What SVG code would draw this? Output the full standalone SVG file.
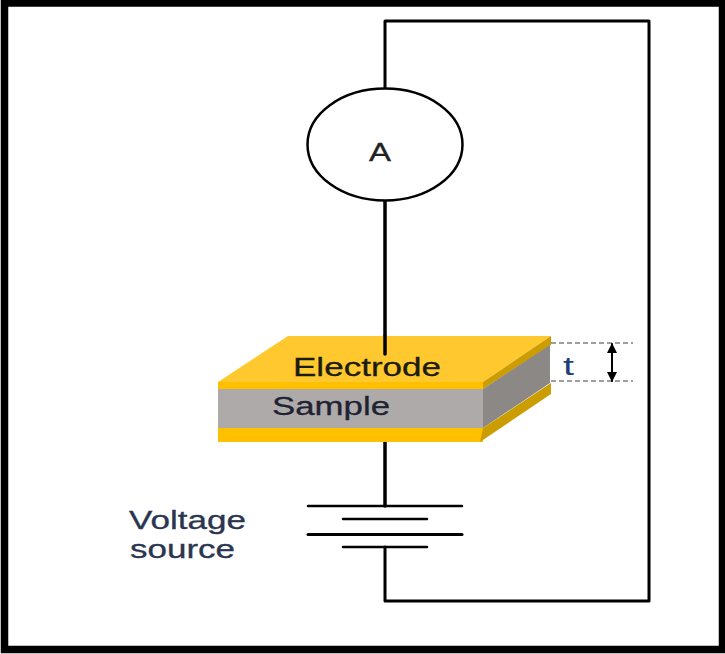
<svg xmlns="http://www.w3.org/2000/svg" width="725" height="654" viewBox="0 0 725 654">
<style>
.w{fill:none;stroke:#000;stroke-linecap:round;stroke-linejoin:round}
.t{font-family:"Liberation Sans",Arial,sans-serif;font-size:25px;stroke-width:.3px}
.d{stroke:#808080;stroke-width:1.5;stroke-dasharray:5 3;fill:none}
</style>
<defs>
<marker id="h" viewBox="0 0 10 10" refX="9" refY="5" markerWidth="5" markerHeight="5" orient="auto-start-reverse"><path d="M0 0L10 5L0 10Z" fill="#000"/></marker>
</defs>
<rect width="725" height="654" fill="#fff"/>
<rect id="frame" x="4.500" y="3" width="718" height="646.500" fill="none" stroke="#000" stroke-width="7.500"/>
<g id="connectors">
<path class="w" stroke-width="3" d="M385 89V21H649V601H385V547"/>
<path class="w" stroke-width="3.500" d="M385 200V354"/>
<path class="w" stroke-width="3.500" d="M385 441V506"/>
<path class="d" d="M551 343H633"/>
<path class="d" d="M551 381H633"/>
<path class="w" stroke-width="2" marker-start="url(#h)" marker-end="url(#h)" d="M612 344V381"/>
</g>
<g id="ammeter">
<ellipse cx="385" cy="144.500" rx="77.500" ry="56" fill="#fff" stroke="#000" stroke-width="2.500"/>
<text class="t" x="369" y="161" textLength="22" lengthAdjust="spacingAndGlyphs" fill="#222" stroke="#222">A</text>
</g>
<g id="sample">
<path d="M218 382L288 336H551L483 382Z" fill="#ffc82e"/>
<path d="M218 382H483V389H218Z" fill="#ffc000"/>
<path d="M483 382L551 336V345L483 389Z" fill="#cc9d00"/>
<path d="M218 389H483V428H218Z" fill="#aeaaaa"/>
<path d="M483 389L550 345V383L483 428Z" fill="#8c8886"/>
<path d="M218 428H483V442H218Z" fill="#ffc000"/>
<path d="M480 442L483 428L551 383V394Z" fill="#cc9d00"/>
<path class="w" stroke-width="3.500" d="M385 336V354"/>
<text class="t" x="293" y="376" textLength="148" lengthAdjust="spacingAndGlyphs" fill="#1c1c10" stroke="#1c1c10">Electrode</text>
<text class="t" x="272" y="415" textLength="118" lengthAdjust="spacingAndGlyphs" fill="#1f2233" stroke="#1f2233">Sample</text>
<text class="t" x="563" y="375" textLength="11" lengthAdjust="spacingAndGlyphs" fill="#1f3f77">t</text>
</g>
<g id="voltage-source">
<path class="w" stroke-width="2.500" d="M308 506H462"/>
<path class="w" stroke-width="2.500" d="M343 519H427"/>
<path class="w" stroke-width="3" d="M308 534.500H462"/>
<path class="w" stroke-width="2.500" d="M343 547H427"/>
<text class="t" x="129" y="529" textLength="117" lengthAdjust="spacingAndGlyphs" fill="#2a3550" stroke="#2a3550">Voltage</text>
<text class="t" x="130" y="558" textLength="105" lengthAdjust="spacingAndGlyphs" fill="#2a3550" stroke="#2a3550">source</text>
</g>
</svg>
